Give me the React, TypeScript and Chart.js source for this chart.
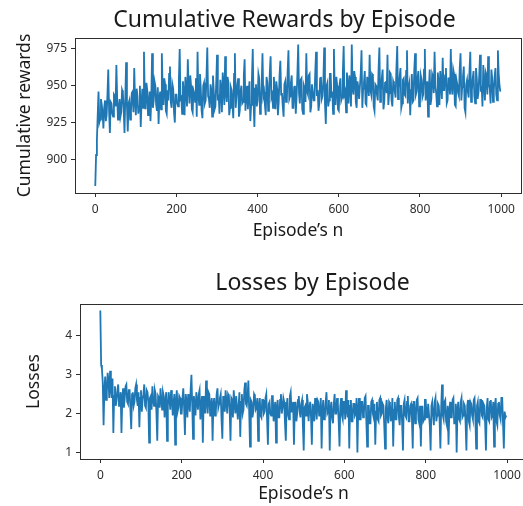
import React, { useEffect, useRef } from "react";
import { Chart, registerables } from "chart.js";

Chart.register(...registerables);

// ---------- data ----------
const EPISODE_STEP = 2; // one sampled value every 2 episodes (episode = index * 2)

const rewardValues = [
  882, 903, 913, 930, 946, 925, 927, 941, 937, 932, 921, 935, 940, 926, 930, 944, 961, 933, 918, 939,
  938, 931, 929, 944, 943, 936, 964, 941, 927, 935, 941, 929, 932, 947, 945, 934, 918, 942, 966, 937,
  919, 938, 940, 927, 933, 945, 946, 932, 962, 940, 930, 948, 943, 931, 936, 950, 922, 939, 948, 935,
  973, 941, 934, 952, 947, 930, 938, 946, 926, 941, 972, 935, 940, 953, 950, 937, 933, 949, 924, 942,
  946, 934, 972, 948, 937, 955, 951, 933, 931, 947, 940, 958, 963, 939, 935, 951, 948, 932, 925, 944,
  944, 938, 936, 954, 975, 941, 942, 931, 953, 945, 930, 956, 946, 936, 968, 949, 938, 957, 950, 934,
  932, 947, 945, 939, 955, 929, 973, 944, 937, 958, 948, 933, 928, 950, 952, 938, 940, 956, 976, 943,
  941, 935, 951, 947, 929, 957, 946, 934, 936, 952, 971, 940, 944, 931, 954, 948, 932, 959, 949, 937,
  970, 945, 939, 956, 952, 930, 935, 949, 947, 938, 928, 958, 972, 935, 943, 951, 955, 929, 933, 946,
  950, 938, 939, 957, 968, 933, 944, 950, 934, 946, 953, 926, 937, 955, 975, 940, 922, 948, 951, 936,
  940, 958, 955, 931, 936, 950, 972, 943, 946, 937, 930, 956, 952, 933, 941, 959, 970, 942, 944, 935,
  956, 947, 934, 953, 948, 930, 939, 957, 967, 944, 945, 936, 929, 951, 953, 939, 940, 960, 974, 941,
  943, 952, 957, 935, 935, 949, 950, 931, 942, 958, 978, 945, 938, 954, 955, 934, 931, 950, 948, 939,
  972, 946, 944, 957, 958, 932, 936, 951, 951, 940, 940, 959, 973, 943, 947, 933, 938, 955, 956, 941,
  943, 953, 976, 938, 924, 950, 952, 936, 940, 958, 958, 942, 946, 931, 975, 947, 937, 956, 950, 934,
  933, 951, 955, 940, 942, 959, 977, 944, 946, 932, 959, 950, 938, 957, 951, 936, 978, 948, 944, 960,
  956, 939, 935, 953, 949, 941, 941, 958, 974, 935, 948, 952, 960, 938, 937, 956, 952, 943, 971, 947,
  944, 958, 957, 936, 933, 951, 950, 944, 940, 961, 976, 939, 947, 955, 961, 934, 939, 952, 953, 945,
  971, 937, 945, 959, 958, 940, 936, 953, 951, 946, 942, 962, 977, 941, 948, 956, 962, 935, 938, 954,
  955, 944, 943, 960, 974, 938, 949, 952, 930, 947, 958, 939, 940, 961, 972, 944, 946, 955, 960, 936,
  939, 957, 954, 942, 944, 961, 975, 940, 948, 953, 929, 948, 961, 937, 941, 958, 956, 945, 973, 950,
  945, 936, 959, 952, 937, 960, 952, 941, 969, 947, 947, 957, 962, 938, 940, 955, 955, 944, 975, 949,
  944, 961, 958, 937, 936, 954, 951, 945, 943, 962, 972, 940, 949, 956, 963, 935, 932, 951, 954, 946,
  942, 960, 973, 939, 947, 955, 960, 943, 938, 962, 955, 941, 945, 957, 971, 946, 950, 936, 964, 953,
  940, 959, 957, 944, 970, 951, 948, 938, 961, 955, 939, 947, 956, 962, 944, 940, 974, 958, 950, 946,
];

const lossValues = [
  4.65, 3.25, 3.15, 2.8, 1.7, 2.6, 2.95, 2.35, 2.55, 3.05, 2.85, 2.4, 3.1, 2.65, 2.4, 2.9, 1.5, 2.45, 2.7, 2.2,
  2.35, 2.6, 2.75, 2.2, 2.3, 2.55, 1.5, 2.4, 2.65, 2.15, 2.4, 2.7, 2.75, 2.3, 2.25, 2.6, 2.6, 2.1, 1.6, 2.5,
  2.55, 2.2, 2.3, 2.65, 2.75, 2.35, 2.2, 2.55, 1.65, 2.4, 2.6, 2.05, 2.35, 2.5, 2.75, 2.2, 2.15, 2.6, 2.55, 2.3,
  1.25, 2.4, 2.45, 2.1, 2.7, 2.35, 2.2, 2.6, 2.5, 2.0, 1.3, 2.45, 2.4, 2.15, 2.65, 2.35, 2.1, 2.55, 2.45, 1.9,
  2.3, 2.55, 1.3, 2.2, 2.55, 2.35, 2.1, 2.6, 2.45, 1.95, 2.25, 2.5, 1.2, 2.3, 2.6, 2.05, 2.15, 2.45, 2.4, 2.0,
  2.0, 2.4, 2.65, 2.15, 1.45, 2.5, 2.3, 1.9, 2.5, 2.3, 2.05, 2.6, 3.0, 2.2, 1.35, 2.45, 2.25, 1.95, 2.55, 2.3,
  2.1, 2.5, 2.6, 1.85, 2.2, 2.45, 1.25, 2.3, 2.45, 2.0, 2.85, 2.35, 2.0, 2.55, 2.5, 1.95, 2.2, 2.4, 1.3, 2.25,
  2.4, 1.95, 2.05, 2.5, 2.65, 2.15, 2.25, 2.4, 2.5, 1.85, 1.35, 2.45, 2.2, 2.05, 2.6, 2.3, 2.0, 2.5, 2.45, 2.1,
  1.3, 2.4, 2.35, 1.9, 2.6, 2.25, 2.0, 2.45, 2.45, 1.85, 2.2, 2.55, 1.4, 2.3, 2.5, 2.0, 2.1, 2.6, 2.8, 2.25,
  2.2, 2.45, 2.85, 2.05, 1.15, 2.35, 2.3, 1.9, 2.05, 2.5, 2.45, 2.1, 2.15, 2.4, 1.3, 2.2, 2.4, 1.95, 1.9, 2.35,
  2.35, 2.0, 2.05, 2.4, 2.5, 1.85, 1.2, 2.25, 2.3, 2.0, 1.95, 2.45, 2.45, 1.8, 2.1, 2.3, 1.25, 2.15, 2.35, 1.9,
  1.9, 2.35, 2.5, 2.0, 2.15, 2.4, 2.3, 1.75, 1.3, 2.2, 2.4, 1.95, 1.85, 2.45, 2.55, 2.05, 2.05, 2.3, 1.2, 2.1,
  2.3, 1.8, 2.0, 2.35, 2.45, 2.05, 1.9, 2.25, 2.35, 1.7, 1.05, 2.15, 2.2, 1.95, 2.5, 2.3, 1.8, 2.15, 2.3, 1.9,
  1.2, 2.25, 2.1, 1.8, 2.4, 2.2, 1.85, 2.35, 2.3, 1.95, 2.0, 2.4, 1.1, 2.1, 2.35, 1.85, 1.9, 2.3, 2.55, 2.0,
  2.05, 2.35, 1.05, 2.15, 2.3, 1.9, 1.75, 2.25, 2.5, 2.0, 2.0, 2.4, 2.25, 1.8, 1.15, 2.2, 2.4, 1.95, 1.85, 2.3,
  2.3, 1.85, 2.6, 2.1, 1.9, 2.35, 1.1, 2.2, 2.35, 1.8, 1.8, 2.25, 2.25, 1.95, 2.0, 2.4, 1.0, 2.1, 2.4, 1.85,
  1.85, 2.3, 2.3, 1.9, 2.0, 2.4, 2.45, 1.8, 1.15, 2.2, 2.2, 1.75, 1.75, 2.3, 2.35, 2.0, 1.9, 2.25, 1.2, 2.05,
  2.3, 1.85, 1.8, 2.35, 2.4, 1.95, 2.0, 2.25, 2.2, 1.7, 1.1, 2.15, 2.35, 1.9, 1.75, 2.3, 2.25, 1.8, 1.95, 2.4,
  1.15, 2.1, 2.3, 1.85, 1.85, 2.35, 2.4, 1.9, 1.7, 2.2, 2.2, 1.75, 1.05, 2.25, 2.35, 1.95, 1.9, 2.3, 2.45, 1.8,
  1.8, 2.2, 2.25, 1.9, 1.1, 2.3, 2.3, 1.75, 1.95, 2.35, 2.4, 1.85, 1.75, 2.2, 1.15, 2.05, 2.2, 1.8, 1.85, 2.35,
  2.35, 1.9, 1.9, 2.25, 2.25, 1.7, 1.05, 2.2, 2.3, 1.95, 1.7, 2.3, 2.4, 1.8, 1.95, 2.25, 2.2, 1.85, 1.1, 2.15,
  2.75, 1.95, 1.85, 2.3, 2.35, 1.8, 1.7, 2.2, 1.2, 2.05, 2.3, 1.9, 1.9, 2.35, 2.4, 1.75, 1.75, 2.25, 1.0, 2.1,
  2.3, 1.85, 1.8, 2.3, 2.4, 1.9, 1.95, 2.25, 2.2, 1.75, 1.05, 2.2, 2.35, 1.8, 1.7, 2.3, 2.25, 1.95, 1.85, 2.35,
  2.4, 1.9, 1.1, 2.2, 2.3, 1.8, 1.75, 2.35, 2.35, 1.95, 1.9, 2.25, 2.2, 1.75, 1.05, 2.15, 2.4, 1.85, 1.8, 2.3,
  2.35, 1.9, 1.95, 2.3, 1.15, 2.2, 2.4, 1.8, 1.7, 2.25, 2.3, 1.95, 1.85, 2.4, 2.4, 1.75, 1.1, 2.05, 1.9, 1.95,
];

const episodeTicks = [0, 200, 400, 600, 800, 1000];
const rewardTicks = [900, 925, 950, 975];
const lossTicks = [1, 2, 3, 4];

const rewardTitle = "Cumulative Rewards by Episode";
const lossTitle = "Losses by Episode";
const xLabel = "Episode\u2019s n";
const rewardYLabel = "Cumulative rewards";
const lossYLabel = "Losses";

// ---------- style ----------
const FONT = '"Noto Sans", "Open Sans", "DejaVu Sans", sans-serif';
const LINE_COLOR = "#1f77b4";
const AXIS_COLOR = "#2e2e2e";
const TEXT_COLOR = "#1a1a1a";

const frameTitlePlugin = {
  id: "frameTitle",
  afterDraw(chart: any, _args: any, o: any) {
    const { ctx, chartArea: a } = chart;
    ctx.save();
    ctx.strokeStyle = AXIS_COLOR;
    ctx.lineWidth = 1;
    ctx.strokeRect(
      Math.round(a.left) + 0.5,
      Math.round(a.top) + 0.5,
      Math.round(a.right - a.left),
      Math.round(a.bottom - a.top)
    );
    ctx.fillStyle = TEXT_COLOR;
    ctx.font = `${o.size}px ${FONT}`;
    ctx.textAlign = "center";
    ctx.textBaseline = "middle";
    ctx.fillText(o.text, o.x, o.y);
    ctx.restore();
  },
};

type Spec = {
  width: number;
  height: number;
  plotLeft: number;
  plotRight: number;
  plotTop: number;
  plotBottom: number;
  yMin: number;
  yMax: number;
  yTicks: number[];
  values: number[];
  title: string;
  titleX: number;
  titleY: number;
  yLabel: string;
  yLabelPad: number;
  xLabelPad: number;
};

function buildConfig(s: Spec): any {
  const tickFont = { family: FONT, size: 12 };
  const labelFont = { family: FONT, size: 17.5 };
  return {
    type: "line",
    data: {
      datasets: [
        {
          data: s.values.map((y, i) => ({ x: i * EPISODE_STEP, y })),
          borderColor: LINE_COLOR,
          backgroundColor: LINE_COLOR,
          borderWidth: 1.8,
          pointRadius: 0,
          tension: 0,
          fill: false,
        },
      ],
    },
    options: {
      responsive: false,
      animation: false,
      events: [],
      layout: {
        padding: { left: 0, top: s.plotTop, right: s.width - s.plotRight, bottom: 0 },
      },
      plugins: {
        legend: { display: false },
        tooltip: { enabled: false },
        title: { display: false },
        frameTitle: { text: s.title, x: s.titleX, y: s.titleY, size: 23 },
      },
      scales: {
        x: {
          type: "linear",
          min: -49.95,
          max: 1048.95,
          afterBuildTicks: (sc: any) => {
            sc.ticks = episodeTicks.map((v) => ({ value: v }));
          },
          afterFit: (sc: any) => {
            sc.height = s.height - s.plotBottom;
          },
          grid: {
            display: true,
            drawOnChartArea: false,
            drawTicks: true,
            tickLength: 4,
            color: AXIS_COLOR,
            lineWidth: 1,
          },
          border: { display: false },
          ticks: {
            font: tickFont,
            color: AXIS_COLOR,
            padding: 5,
            maxRotation: 0,
            autoSkip: false,
            callback: (v: any) => String(v),
          },
          title: {
            display: true,
            text: xLabel,
            font: labelFont,
            color: TEXT_COLOR,
            padding: { top: 0, bottom: s.xLabelPad },
          },
        },
        y: {
          type: "linear",
          min: s.yMin,
          max: s.yMax,
          afterBuildTicks: (sc: any) => {
            sc.ticks = s.yTicks.map((v) => ({ value: v }));
          },
          afterFit: (sc: any) => {
            sc.width = s.plotLeft;
          },
          grid: {
            display: true,
            drawOnChartArea: false,
            drawTicks: true,
            tickLength: 4,
            color: AXIS_COLOR,
            lineWidth: 1,
          },
          border: { display: false },
          ticks: {
            font: tickFont,
            color: AXIS_COLOR,
            padding: 4,
            autoSkip: false,
            callback: (v: any) => String(v),
          },
          title: {
            display: true,
            text: s.yLabel,
            font: labelFont,
            color: TEXT_COLOR,
            padding: { top: s.yLabelPad, bottom: 0 },
          },
        },
      },
    },
    plugins: [frameTitlePlugin],
  };
}

const topSpec: Spec = {
  width: 523,
  height: 250,
  plotLeft: 75,
  plotRight: 521,
  plotTop: 38,
  plotBottom: 193,
  yMin: 877.2,
  yMax: 982.4,
  yTicks: rewardTicks,
  values: rewardValues,
  title: rewardTitle,
  titleX: 284.5,
  titleY: 20,
  yLabel: rewardYLabel,
  yLabelPad: 14.5,
  xLabelPad: 8.5,
};

const bottomSpec: Spec = {
  width: 540,
  height: 256,
  plotLeft: 80,
  plotRight: 527,
  plotTop: 54,
  plotBottom: 209,
  yMin: 0.83,
  yMax: 4.82,
  yTicks: lossTicks,
  values: lossValues,
  title: lossTitle,
  titleX: 312.5,
  titleY: 33,
  yLabel: lossYLabel,
  yLabelPad: 23.5,
  xLabelPad: 1.5,
};

function ChartCanvas({ spec, top }: { spec: Spec; top: number }) {
  const ref = useRef<HTMLCanvasElement | null>(null);
  useEffect(() => {
    if (!ref.current) return;
    const chart = new Chart(ref.current, buildConfig(spec));
    return () => chart.destroy();
  }, [spec]);
  return (
    <canvas
      ref={ref}
      width={spec.width}
      height={spec.height}
      style={{
        position: "absolute",
        left: 0,
        top,
        width: spec.width,
        height: spec.height,
        display: "block",
      }}
    />
  );
}

export default function App() {
  return (
    <div
      style={{
        position: "absolute",
        left: 0,
        top: 0,
        width: 523,
        height: 506,
        overflow: "hidden",
        background: "#ffffff",
      }}
    >
      <ChartCanvas spec={topSpec} top={0} />
      <ChartCanvas spec={bottomSpec} top={250} />
    </div>
  );
}
